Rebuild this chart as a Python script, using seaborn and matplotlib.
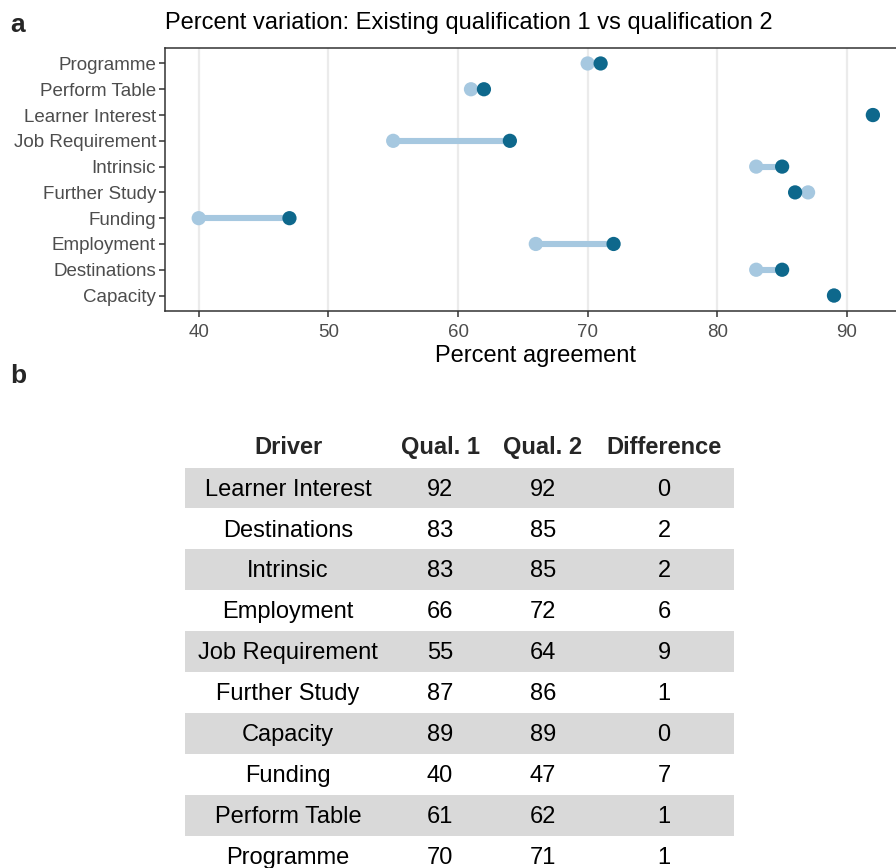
import matplotlib
matplotlib.use("Agg")
import matplotlib.pyplot as plt
import seaborn as sns
import pandas as pd

# ---- data ----
drivers = ["Programme", "Perform Table", "Learner Interest", "Job Requirement", "Intrinsic",
           "Further Study", "Funding", "Employment", "Destinations", "Capacity"]
qual1 = [70, 61, 92, 55, 83, 87, 40, 66, 83, 89]
qual2 = [71, 62, 92, 64, 85, 86, 47, 72, 85, 89]

table_drivers = ["Learner Interest", "Destinations", "Intrinsic", "Employment", "Job Requirement",
                 "Further Study", "Capacity", "Funding", "Perform Table", "Programme"]
table_q1 = [92, 83, 83, 66, 55, 87, 89, 40, 61, 70]
table_q2 = [92, 85, 85, 72, 64, 86, 89, 47, 62, 71]
table_diff = [0, 2, 2, 6, 9, 1, 0, 7, 1, 1]
table_headers = ["Driver", "Qual. 1", "Qual. 2", "Difference"]
x_ticks = [40, 50, 60, 70, 80, 90]

LIGHT = "#a6c8e0"
DARK = "#0e688c"

sns.set_theme(style="white")
plt.rcParams["font.family"] = ["Liberation Sans", "DejaVu Sans"]

W, H = 896, 868
fig = plt.figure(figsize=(W / 100, H / 100), dpi=100)

def pos(l, t, r, b):
    return [l / W, 1 - b / H, (r - l) / W, (b - t) / H]

# ---- panel a ----
ax = fig.add_axes(pos(165, 48, 906.6, 311))
df = pd.DataFrame({"driver": drivers, "q1": qual1, "q2": qual2})
ypos = list(range(len(drivers)))
df["y"] = ypos
ax.hlines(df["y"], df["q1"], df["q2"], color=LIGHT, linewidth=4.4, zorder=2)
sns.scatterplot(data=df, x="q1", y="y", color=LIGHT, s=105, edgecolor="none", ax=ax, zorder=3)
sns.scatterplot(data=df, x="q2", y="y", color=DARK, s=105, edgecolor="none", ax=ax, zorder=4)
ax.set_xlim(37.4, 94.6)
ax.set_ylim(len(drivers) - 1 + 0.6, -0.6)
ax.set_yticks(ypos)
ax.set_yticklabels(drivers)
ax.set_xticks(x_ticks)
ax.set_xticklabels([str(v) for v in x_ticks])
ax.grid(axis="x", color="#ebebeb", linewidth=1.6, zorder=0)
ax.set_axisbelow(True)
for s in ax.spines.values():
    s.set_color("#333333")
    s.set_linewidth(1.1)
ax.tick_params(axis="both", which="major", length=4, width=1.1, color="#333333",
               labelcolor="#4d4d4d", labelsize=13.5, left=True, bottom=True, pad=2.5)
ax.tick_params(axis="x", pad=5.5)
ax.set_xlabel("Percent agreement", fontsize=17, color="black", labelpad=3)
ax.set_ylabel("")
ax.set_title("Percent variation: Existing qualification 1 vs qualification 2",
             loc="left", fontsize=17, color="black", pad=14)

fig.text(10 / W, 1 - 25 / H, "a", fontsize=19, fontweight="bold", va="center", ha="left")
fig.text(10 / W, 1 - 376 / H, "b", fontsize=19, fontweight="bold", va="center", ha="left")

# ---- panel b (table) ----
tx = fig.add_axes(pos(185, 425, 734, 868))
tx.set_xlim(185, 734)
row_h = 40.9
tx.set_ylim((868 - 488) / row_h, (425 - 488) / row_h)
tx.axis("off")
col_x = [288, 440, 543, 664]
for i, h in enumerate(table_headers):
    tx.text(col_x[i], -1.0, h, ha="center", va="center", fontsize=17, fontweight="bold")
for r in range(len(table_drivers)):
    if r % 2 == 0:
        tx.axhspan(r - 0.5, r + 0.5, color="#d9d9d9", zorder=0, linewidth=0)
    vals = [table_drivers[r], table_q1[r], table_q2[r], table_diff[r]]
    for i, v in enumerate(vals):
        tx.text(col_x[i], r + 0.04, str(v), ha="center", va="center", fontsize=17, color="black")

fig.savefig("out.png", dpi=100)
